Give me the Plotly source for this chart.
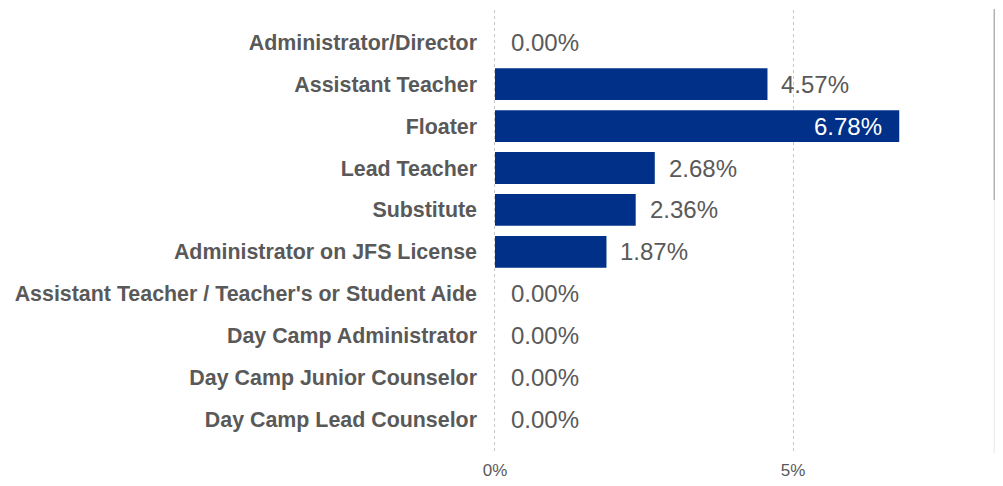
import plotly.graph_objects as go

categories = [
    "Administrator/Director",
    "Assistant Teacher",
    "Floater",
    "Lead Teacher",
    "Substitute",
    "Administrator on JFS License",
    "Assistant Teacher / Teacher's or Student Aide",
    "Day Camp Administrator",
    "Day Camp Junior Counselor",
    "Day Camp Lead Counselor",
]
values = [0.00, 4.57, 6.78, 2.68, 2.36, 1.87, 0.00, 0.00, 0.00, 0.00]
tick_vals = [0, 5]
tick_text = ["0%", "5%"]

BAR = "#003087"
GREY = "#595959"
FONT = "Liberation Sans, Arial, Helvetica, sans-serif"

fig = go.Figure(go.Bar(
    y=categories, x=values, orientation="h",
    marker=dict(color=BAR, line=dict(width=0)),
    hoverinfo="skip",
))

annotations = []
for c, v in zip(categories, values):
    inside = v > 6
    annotations.append(dict(
        x=v, y=c, xref="x", yref="y",
        text=f"{v:.2f}%",
        showarrow=False,
        xanchor="right" if inside else "left",
        xshift=-15 if inside else (14 if v == 0 else 12),
        font=dict(family=FONT, size=24, color="white" if inside else GREY),
    ))

# page scrollbar decoration (track + thumb)
shapes = [
    dict(type="rect", xref="paper", yref="paper", x0=1.045, x1=1.08, y0=0.0, y1=1.002,
         fillcolor="#eeeeee", line=dict(width=0), layer="above"),
    dict(type="rect", xref="paper", yref="paper", x0=1.045, x1=1.08, y0=0.571, y1=1.002,
         fillcolor="#b0b0b0", line=dict(width=0), layer="above"),
]

fig.update_layout(
    width=995, height=478,
    margin=dict(l=484, r=30.6, t=2, b=33, pad=0),
    paper_bgcolor="white", plot_bgcolor="white",
    bargap=0.24,
    showlegend=False,
    annotations=annotations,
    shapes=shapes,
    font=dict(family=FONT, color=GREY),
    xaxis=dict(
        range=[-0.05, 8], tickvals=tick_vals, ticktext=tick_text,
        showgrid=True, gridcolor="#c8c8c8", griddash="dot", gridwidth=1,
        zeroline=False, showline=False, ticks="", ticklabelstandoff=5,
        tickfont=dict(size=17, color=GREY), fixedrange=True, automargin=False,
    ),
    yaxis=dict(
        range=[9.8, -0.77], showgrid=False, zeroline=False, showline=False,
        ticks="", ticklabelstandoff=14,
        tickfont=dict(size=21.4, color=GREY, weight="bold"), fixedrange=True,
    ),
)

fig.write_html("out.html", config={"displayModeBar": False})
